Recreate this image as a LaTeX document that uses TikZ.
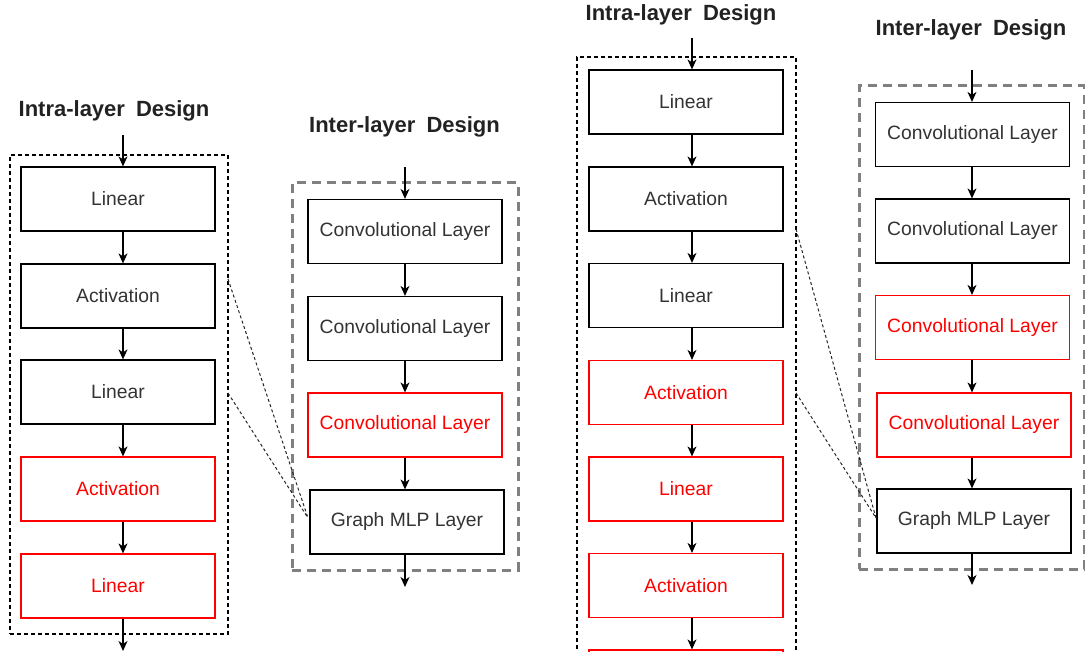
\documentclass[tikz,border=0pt]{standalone}
\usepackage{fontspec}
\setmainfont{Liberation Sans}
\usetikzlibrary{arrows.meta}
\definecolor{txtgray}{HTML}{333333}
\definecolor{frmgray}{HTML}{808080}
\definecolor{hlred}{HTML}{FF0000}
\definecolor{ttlblack}{HTML}{222222}

\begin{document}
\begin{tikzpicture}[x=1pt,y=-1pt,
  layerbox/.style={draw=black, line width=1.2pt, minimum width=194pt, minimum height=64pt,
    inner sep=0pt, font=\fontsize{19.3}{22}\selectfont, text=txtgray},
  hot/.style={draw=hlred, text=hlred},
  flow/.style={draw=black, line width=1.3pt, -{Stealth[length=10pt,width=9pt,inset=3pt]}},
  heading/.style={font=\fontsize{22}{26}\selectfont\bfseries, text=ttlblack, inner sep=0pt},
  intrafrm/.style={draw=black, line width=1.2pt, dash pattern=on 4pt off 3pt, inner sep=0pt},
  interfrm/.style={draw=frmgray, line width=3pt, dash pattern=on 9pt off 6pt, inner sep=0pt},
  zoomlink/.style={draw=black!85, line width=1pt, dash pattern=on 3pt off 2.5pt}
]
\useasboundingbox (0,0) rectangle (1085,652);
\clip (0,0) rectangle (1085,652);

% ---------- frames ----------
\node[intrafrm, minimum width=218pt, minimum height=479pt] (fA) at (119,394.5) {};
\node[interfrm, minimum width=226pt, minimum height=387pt] (fB) at (405,376.5) {};
\node[intrafrm, minimum width=219pt, minimum height=703pt] (fC) at (686.5,408.5) {};
\node[interfrm, minimum width=225pt, minimum height=483pt] (fD) at (971.5,327.5) {};

% ---------- headings ----------
\node[heading] (tA) at (114,111) {Intra-layer\hskip0.5em Design};
\node[heading] (tB) at (404.5,127) {Inter-layer\hskip0.5em Design};
\node[heading] (tC) at (681,15) {Intra-layer\hskip0.5em Design};
\node[heading] (tD) at (971,30) {Inter-layer\hskip0.5em Design};

% ---------- first intra-layer stack ----------
\node[layerbox] (a1) at (118,199) {Linear};
\node[layerbox] (a2) at (118,296) {Activation};
\node[layerbox] (a3) at (118,392) {Linear};
\node[layerbox, hot] (a4) at (118,489) {Activation};
\node[layerbox, hot] (a5) at (118,586) {Linear};

% ---------- first inter-layer stack ----------
\node[layerbox] (b1) at (405,231.5) {Convolutional Layer};
\node[layerbox] (b2) at (405,328.5) {Convolutional Layer};
\node[layerbox, hot] (b3) at (405,425) {Convolutional Layer};
\node[layerbox] (b4) at (407,522) {Graph MLP Layer};

% ---------- second intra-layer stack ----------
\node[layerbox] (c1) at (686,102) {Linear};
\node[layerbox] (c2) at (686,199) {Activation};
\node[layerbox] (c3) at (686,295.5) {Linear};
\node[layerbox, hot] (c4) at (686,392.5) {Activation};
\node[layerbox, hot] (c5) at (686,489) {Linear};
\node[layerbox, hot] (c6) at (686,585.5) {Activation};
\node[layerbox, hot] (c7) at (686,682) {};

% ---------- second inter-layer stack ----------
\node[layerbox] (d1) at (972.5,134.5) {Convolutional Layer};
\node[layerbox] (d2) at (972.5,231) {Convolutional Layer};
\node[layerbox, hot] (d3) at (972.5,327.5) {Convolutional Layer};
\node[layerbox, hot] (d4) at (974,425) {Convolutional Layer};
\node[layerbox] (d5) at (974,521) {Graph MLP Layer};

% ---------- flow axes and free ends ----------
\coordinate (ax) at (123,0);
\coordinate (bx) at (405,0);
\coordinate (cx) at (692,0);
\coordinate (dx) at (972,0);
\coordinate (inA) at (123,135);
\coordinate (outA) at (123,651);
\coordinate (inB) at (405,167);
\coordinate (outB) at (405,587);
\coordinate (inC) at (692,38);
\coordinate (inD) at (972,70);
\coordinate (outD) at (972,585);

% ---------- flow arrows ----------
\draw[flow] (inA) -- (a1.north -| ax);
\draw[flow] (a1.south -| ax) -- (a2.north -| ax);
\draw[flow] (a2.south -| ax) -- (a3.north -| ax);
\draw[flow] (a3.south -| ax) -- (a4.north -| ax);
\draw[flow] (a4.south -| ax) -- (a5.north -| ax);
\draw[flow] (a5.south -| ax) -- (outA);

\draw[flow] (inB) -- (b1.north -| bx);
\draw[flow] (b1.south -| bx) -- (b2.north -| bx);
\draw[flow] (b2.south -| bx) -- (b3.north -| bx);
\draw[flow] (b3.south -| bx) -- (b4.north -| bx);
\draw[flow] (b4.south -| bx) -- (outB);

\draw[flow] (inC) -- (c1.north -| cx);
\draw[flow] (c1.south -| cx) -- (c2.north -| cx);
\draw[flow] (c2.south -| cx) -- (c3.north -| cx);
\draw[flow] (c3.south -| cx) -- (c4.north -| cx);
\draw[flow] (c4.south -| cx) -- (c5.north -| cx);
\draw[flow] (c5.south -| cx) -- (c6.north -| cx);
\draw[flow] (c6.south -| cx) -- (c7.north -| cx);

\draw[flow] (inD) -- (d1.north -| dx);
\draw[flow] (d1.south -| dx) -- (d2.north -| dx);
\draw[flow] (d2.south -| dx) -- (d3.north -| dx);
\draw[flow] (d3.south -| dx) -- (d4.north -| dx);
\draw[flow] (d4.south -| dx) -- (d5.north -| dx);
\draw[flow] (d5.south -| dx) -- (outD);

% ---------- zoom links from intra-layer frames to graph MLP layers ----------
\coordinate (zA1) at (228,279);
\coordinate (zA2) at (228,393);
\coordinate (zC1) at (796,229);
\coordinate (zC2) at (796,393);
\coordinate (tipB) at (308,518);
\coordinate (tipD) at (876,518);
\draw[zoomlink] (zA1) -- (tipB);
\draw[zoomlink] (zA2) -- (tipB);
\draw[zoomlink] (zC1) -- (tipD);
\draw[zoomlink] (zC2) -- (tipD);
\end{tikzpicture}
\end{document}
